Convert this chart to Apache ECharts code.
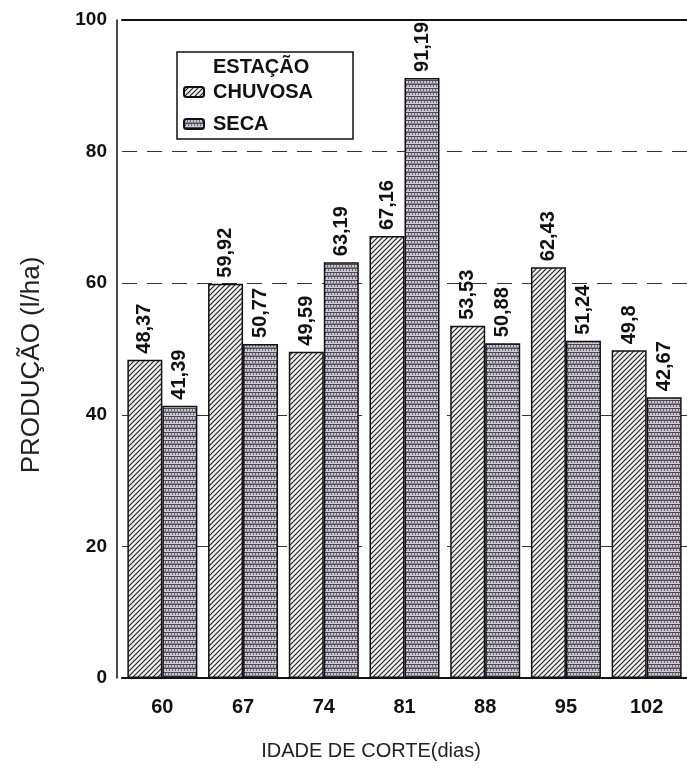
<!DOCTYPE html>
<html>
<head>
<meta charset="utf-8">
<script src="https://cdn.jsdelivr.net/npm/echarts@6/dist/echarts.min.js"></script>
<style>
  html, body { margin: 0; padding: 0; background: #fff; }
  #chart { width: 687px; height: 772px; }
</style>
</head>
<body>
<div id="chart"></div>
<script>
// Cutting age (days) and production per season
const categories = ['60', '67', '74', '81', '88', '95', '102'];
const chuvosa = [48.37, 59.92, 49.59, 67.16, 53.53, 62.43, 49.8];
const seca = [41.39, 50.77, 63.19, 91.19, 50.88, 51.24, 42.67];
const yTicks = { min: 0, max: 100, step: 20 };

const FONT = '"Liberation Sans", Arial, sans-serif';

// Diagonal hatching tile for the rainy-season bars
function hatchTile() {
  const c = document.createElement('canvas');
  c.width = c.height = 5;
  const g = c.getContext('2d');
  g.fillStyle = '#f0f0f0';
  g.fillRect(0, 0, 5, 5);
  g.strokeStyle = '#262626';
  g.lineWidth = 1.2;
  g.beginPath();
  g.moveTo(-1, 6); g.lineTo(6, -1);
  g.moveTo(-1, 1); g.lineTo(1, -1);
  g.moveTo(4, 6); g.lineTo(6, 4);
  g.stroke();
  return c;
}

// Fine brick/mesh tile for the dry-season bars
function meshTile() {
  const c = document.createElement('canvas');
  c.width = 12; c.height = 8;
  const g = c.getContext('2d');
  g.fillStyle = '#cfc4d6';
  g.fillRect(0, 0, 12, 8);
  g.fillStyle = '#c6d0c6';
  g.fillRect(6, 4, 6, 4);
  g.fillStyle = '#4e4a55';
  g.fillRect(0, 0, 12, 1);
  g.fillRect(0, 4, 12, 1);
  g.fillStyle = '#6e6875';
  for (let x = 0; x < 12; x += 3) {
    g.fillRect(x, 1, 1, 2);
    g.fillRect(x + 1, 5, 1, 2);
  }
  g.fillStyle = '#8a8490';
  g.fillRect(0, 3, 12, 1);
  return c;
}

const chart = echarts.init(document.getElementById('chart'), null, { renderer: 'canvas' });

const valueLabel = {
  show: true,
  position: 'top',
  rotate: 90,
  align: 'left',
  verticalAlign: 'middle',
  distance: 6,
  color: '#111',
  fontFamily: FONT,
  fontWeight: 'bold',
  fontSize: 20,
  formatter: p => String(p.value).replace('.', ',')
};

chart.setOption({
  animation: false,
  backgroundColor: '#fff',
  title: [
    {
      text: 'ESTAÇÃO',
      left: 213, top: 57,
      padding: 0,
      textStyle: { fontFamily: FONT, fontWeight: 'bold', fontSize: 20, color: '#111' }
    },
    {
      text: 'IDADE DE CORTE(dias)',
      left: 371, top: 741, textAlign: 'center',
      padding: 0,
      textStyle: { fontFamily: FONT, fontWeight: 'normal', fontSize: 20, color: '#222' }
    }
  ],
  legend: {
    data: ['CHUVOSA', 'SECA'],
    orient: 'vertical',
    left: 177, top: 52,
    padding: [30, 40, 5, 6],
    borderColor: '#111',
    borderWidth: 1.5,
    itemWidth: 20,
    itemHeight: 10,
    itemGap: 12,
    textStyle: { fontFamily: FONT, fontWeight: 'bold', fontSize: 20, lineHeight: 20, color: '#111', padding: [0, 0, 0, 4] }
  },
  grid: { left: 122, right: -8, top: 20, bottom: 94 },
  xAxis: [
    {
      type: 'category',
      data: categories,
      position: 'bottom',
      axisLine: { lineStyle: { color: '#111', width: 2 } },
      axisTick: { alignWithLabel: true, length: 9, lineStyle: { color: '#444' } },
      axisLabel: { fontFamily: FONT, fontWeight: 'bold', fontSize: 20, color: '#111', margin: 19 }
    },
    {
      type: 'category',
      data: categories,
      position: 'top',
      axisLine: { lineStyle: { color: '#111', width: 2 } },
      axisTick: { show: false },
      axisLabel: { show: false }
    }
  ],
  yAxis: {
    type: 'value',
    min: yTicks.min, max: yTicks.max, interval: yTicks.step,
    offset: 5,
    name: 'PRODUÇÃO (l/ha)',
    nameLocation: 'middle',
    nameGap: 72,
    nameTextStyle: { fontFamily: FONT, fontSize: 26, color: '#222', padding: [0, 32, 0, 0] },
    axisLine: { show: true, lineStyle: { color: '#111', width: 1.5 } },
    axisTick: { show: false },
    axisLabel: { fontFamily: FONT, fontWeight: 'bold', fontSize: 19, color: '#111', margin: 10 },
    splitLine: { show: true, lineStyle: { color: '#333', type: [15, 10], width: 1 } }
  },
  series: [
    {
      name: 'CHUVOSA',
      type: 'bar',
      data: chuvosa,
      barWidth: 35,
      barGap: '0%',
      itemStyle: { color: { image: hatchTile(), repeat: 'repeat' }, borderColor: '#111', borderWidth: 1.5 },
      label: valueLabel
    },
    {
      name: 'SECA',
      type: 'bar',
      data: seca,
      barWidth: 35,
      barGap: '0%',
      itemStyle: { color: { image: meshTile(), repeat: 'repeat' }, borderColor: '#111', borderWidth: 1.5 },
      label: valueLabel
    }
  ]
});
</script>
</body>
</html>
